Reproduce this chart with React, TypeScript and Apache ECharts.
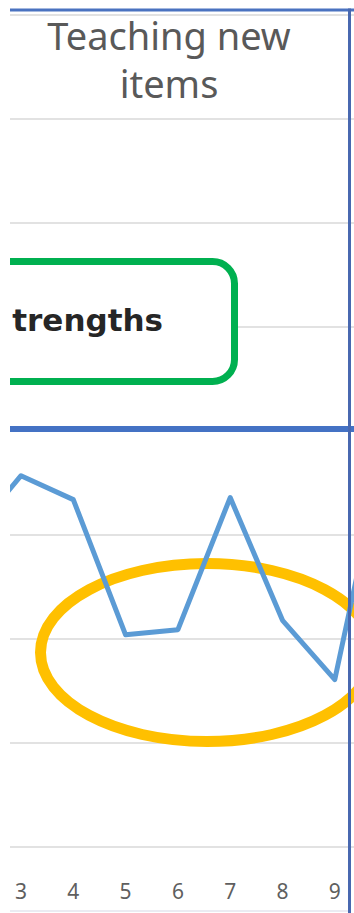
import React, { useEffect, useRef } from 'react';
import * as echarts from 'echarts';

// Data (visible slice of a wider line chart)
const categories = ['2', '3', '4', '5', '6', '7', '8', '9', '10'];
const seriesValues = [29.7, 35.7, 33.4, 20.4, 20.9, 33.6, 21.8, 16.1, 39.6];
const visibleLabels = ['3', '4', '5', '6', '7', '8', '9'];
const yMin = 0;
const yMax = 80;
const yInterval = 10;
const titleLines = ['Teaching new', 'items'];
const calloutText = 'trengths';

const FONT = '"Noto Sans", "Open Sans", sans-serif';
const OX = 60; // chart x offset relative to the page's left edge

export default function App() {
  const ref = useRef<HTMLDivElement | null>(null);

  useEffect(() => {
    document.body.style.margin = '0';
    if (!ref.current) return;
    const chart = echarts.init(ref.current, undefined, { renderer: 'svg' });
    chart.setOption({
      animation: false,
      backgroundColor: '#ffffff',
      grid: { left: 2.55, top: 15, width: 470.7, height: 832, containLabel: false },
      xAxis: {
        type: 'category',
        data: categories,
        boundaryGap: true,
        axisLine: { show: false },
        axisTick: { show: false },
        axisLabel: {
          margin: 33,
          fontSize: 21,
          color: '#5f5f5f',
          fontFamily: FONT,
          interval: (_i: number, v: string) => visibleLabels.indexOf(v) >= 0,
        },
        splitLine: { show: false },
      },
      yAxis: {
        type: 'value',
        min: yMin,
        max: yMax,
        interval: yInterval,
        axisLine: { show: false },
        axisTick: { show: false },
        axisLabel: { show: false },
        splitLine: { show: true, lineStyle: { color: '#e2e2e2', width: 2 } },
      },
      series: [
        {
          type: 'line',
          data: seriesValues,
          showSymbol: false,
          symbol: 'none',
          z: 2,
          lineStyle: { color: '#5B9BD5', width: 5, join: 'round' },
          itemStyle: { color: '#5B9BD5' },
        },
      ],
      graphic: [
        {
          type: 'text',
          z: 4,
          style: {
            text: titleLines.join('\n'),
            x: 169 + OX,
            y: 59,
            align: 'center',
            verticalAlign: 'middle',
            textAlign: 'center',
            textVerticalAlign: 'middle',
            lineHeight: 48,
            font: `38px ${FONT}`,
            fill: '#595959',
          },
        },
        {
          type: 'rect',
          z: 1,
          shape: { x: -100 + OX, y: 261.5, width: 334.5, height: 120, r: 22 },
          style: { fill: '#ffffff', stroke: '#00B050', lineWidth: 7 },
        },
        {
          type: 'text',
          z: 4,
          style: {
            text: calloutText,
            x: 163 + OX,
            y: 320,
            align: 'right',
            verticalAlign: 'middle',
            textAlign: 'right',
            textVerticalAlign: 'middle',
            font: 'bold 31px "DejaVu Sans", sans-serif',
            fill: '#262626',
          },
        },
        {
          type: 'ellipse',
          z: 1,
          shape: { cx: 207 + OX, cy: 652.5, rx: 166.5, ry: 89 },
          style: { fill: 'none', stroke: '#FFC000', lineWidth: 11 },
        },
        {
          type: 'line',
          z: 5,
          shape: { x1: 10 + OX, y1: 10, x2: 354 + OX, y2: 10 },
          style: { stroke: '#4a72c0', lineWidth: 3 },
        },
        {
          type: 'line',
          z: 5,
          shape: { x1: 10 + OX, y1: 429, x2: 354 + OX, y2: 429 },
          style: { stroke: '#4472C4', lineWidth: 6 },
        },
        {
          type: 'line',
          z: 5,
          shape: { x1: 349.5 + OX, y1: 8.5, x2: 349.5 + OX, y2: 913 },
          style: { stroke: '#4868b0', lineWidth: 3 },
        },
        {
          type: 'line',
          z: 3,
          shape: { x1: 10 + OX, y1: 911, x2: 348 + OX, y2: 911 },
          style: { stroke: '#e4e4ee', lineWidth: 1.5 },
        },
      ],
    });
    return () => {
      chart.dispose();
    };
  }, []);

  return (
    <div style={{ position: 'relative', width: 354, height: 913, background: '#ffffff', overflow: 'hidden' }}>
      <div style={{ position: 'absolute', left: 10, top: 0, width: 344, height: 913, overflow: 'hidden' }}>
        <div ref={ref} style={{ position: 'absolute', left: -OX - 10, top: 0, width: 480, height: 913 }} />
      </div>
    </div>
  );
}
